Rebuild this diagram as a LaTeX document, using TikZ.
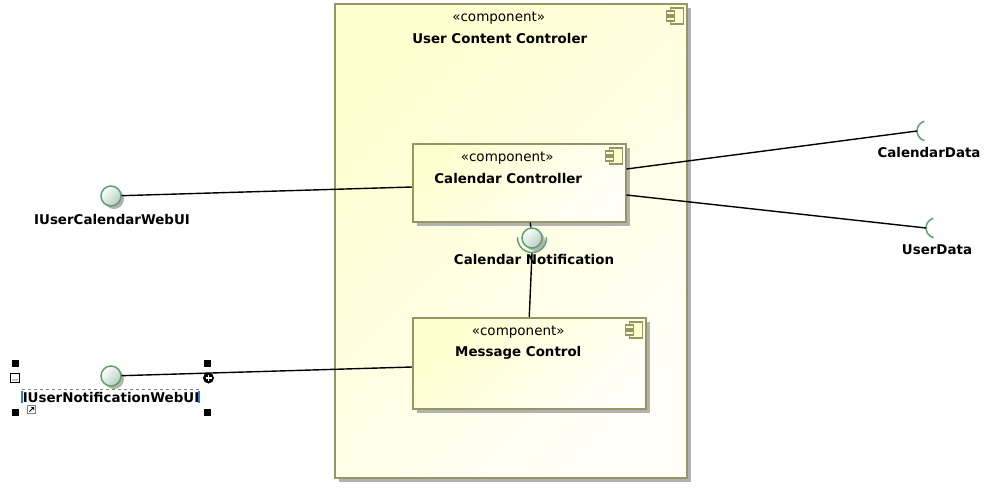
\documentclass[tikz,border=0pt]{standalone}
\usepackage{fontspec}
\setmainfont{DejaVu Sans}
\usetikzlibrary{shadows,calc}
\definecolor{compfill}{RGB}{255,255,208}
\definecolor{compend}{RGB}{255,255,248}
\definecolor{compline}{RGB}{150,150,100}
\definecolor{ifline}{RGB}{95,160,115}
\definecolor{iffill}{RGB}{185,205,193}
\definecolor{selblue}{RGB}{40,120,230}
\tikzset{
  comp/.style={draw=compline, line width=1.5pt, top color=compfill, bottom color=compend,
    shading angle=45, inner sep=0pt, anchor=north west,
    drop shadow={shadow xshift=4pt, shadow yshift=-4pt, fill=black!30, opacity=1}},
  stereo/.style={font=\fontsize{13.5}{15}\selectfont, inner sep=0pt},
  cname/.style={font=\bfseries\fontsize{13.4}{15}\selectfont, inner sep=0pt},
  iface/.style={circle, draw=ifline, line width=1.5pt, minimum size=20pt, inner sep=0pt,
    top color=white, bottom color=iffill, shading angle=45,
    drop shadow={shadow xshift=3pt, shadow yshift=-3pt, fill=black!30, opacity=1}},
  sock/.style={draw=ifline, line width=1.5pt},
  conn/.style={draw=black, line width=1.4pt},
  handle/.style={fill=black},
  compicon/.pic={
    \draw[compline, line width=1.4pt, fill=compfill] (4,0) rectangle (17,16);
    \draw[compline, line width=1.4pt, fill=compfill] (0,3) rectangle (8,7);
    \draw[compline, line width=1.4pt, fill=compfill] (0,9) rectangle (8,13);
  }
}
\begin{document}
\begin{tikzpicture}[x=1pt,y=-1pt]
\fill[white] (0,0) rectangle (1005,498);
\useasboundingbox (0,0) rectangle (1005,498);

% components
\node[comp, minimum width=352pt, minimum height=474pt] (ucc) at (334,3) {};
\pic at ($(ucc.north east)+(-21,5)$) {compicon};
\node[stereo] (ucc-s) at ($(ucc.north)+(-12,15)$) {«component»};
\node[cname] (ucc-n) at ($(ucc.north)+(-11,36)$) {User Content Controler};

\node[comp, minimum width=213pt, minimum height=78pt] (cc) at (412,143) {};
\pic at ($(cc.north east)+(-21,5)$) {compicon};
\node[stereo] (cc-s) at ($(cc.north)+(-12,15)$) {«component»};
\node[cname] (cc-n) at ($(cc.north)+(-11,36)$) {Calendar Controller};

\node[comp, minimum width=233pt, minimum height=91pt] (mc) at (412,317) {};
\pic at ($(mc.north east)+(-21,5)$) {compicon};
\node[stereo] (mc-s) at ($(mc.north)+(-11,15)$) {«component»};
\node[cname] (mc-n) at ($(mc.north)+(-11,36)$) {Message Control};

% provided interfaces
\node[iface] (icw) at (111,196) {};
\node[cname] (icw-l) at (112,220) {IUserCalendarWebUI};
\node[iface] (inw) at (111,376) {};
\node[cname] (inw-l) at (111,397) {IUserNotificationWebUI};

% calendar notification (assembly)
\coordinate (cc-b) at ($(cc.south)+(11,0)$);
\node[iface] (cn) at (532,238) {};
\coordinate (cn-b) at ($(cn)+(0,15)$);
\draw[sock] ($(cn)+(-3:14.5)$) arc[start angle=-3, end angle=183, radius=14.5];
\draw[conn] (cc-b) -- (cn);
\draw[conn] (cn-b) -- (mc.north);
\node[cname] (cn-l) at (534,260) {Calendar Notification};

% required interfaces
\coordinate (cd-c) at (927,131);
\coordinate (cd-e) at (917,131);
\draw[sock] ($(cd-c)+(105:10)$) arc[start angle=105, end angle=255, radius=10];
\node[cname] (cd-l) at (929,153) {CalendarData};
\coordinate (ud-c) at (936,228);
\coordinate (ud-e) at (926,228);
\draw[sock] ($(ud-c)+(105:10)$) arc[start angle=105, end angle=255, radius=10];
\node[cname] (ud-l) at (937,250) {UserData};

% connectors
\coordinate (cc-w) at ($(cc.north west)+(0,44)$);
\coordinate (mc-w) at ($(mc.north west)+(0,50)$);
\coordinate (cc-e1) at ($(cc.north east)+(0,26)$);
\coordinate (cc-e2) at ($(cc.north east)+(0,52)$);
\draw[conn] (icw) -- (cc-w);
\draw[conn] (inw) -- (mc-w);
\draw[conn] (cc-e1) -- (cd-e);
\draw[conn] (cc-e2) -- (ud-e);

% selection decorations
\draw[gray, dashed, line width=0.7pt] (22,389) -- (199,389);
\draw[selblue, line width=1.2pt] (22,391) -- (22,403);
\draw[selblue, line width=1.2pt] (199,391) -- (199,403);
\fill[handle] (11.5,359.5) rectangle ++(7,7);
\fill[handle] (203.5,359.5) rectangle ++(7,7);
\fill[handle] (11.5,408.5) rectangle ++(7,7);
\fill[handle] (203.5,408.5) rectangle ++(7,7);
\draw[black, fill=white, line width=0.8pt] (10.5,373.5) rectangle (19.5,382.5);
\fill (13,380) circle (0.7) (15,380) circle (0.7) (17,380) circle (0.7);
\fill[black] (208.5,378) circle (5.5);
\draw[white, line width=1.5pt] (205.5,378) -- (211.5,378) (208.5,375) -- (208.5,381);
\draw[gray, fill=white, line width=0.6pt] (27.5,405.5) rectangle (35.5,413.5);
\draw[black, line width=0.8pt] (29.5,411.5) -- (33.5,407.5);
\fill[black] (34,407) -- (31,407) -- (34,410) -- cycle;
\end{tikzpicture}
\end{document}
